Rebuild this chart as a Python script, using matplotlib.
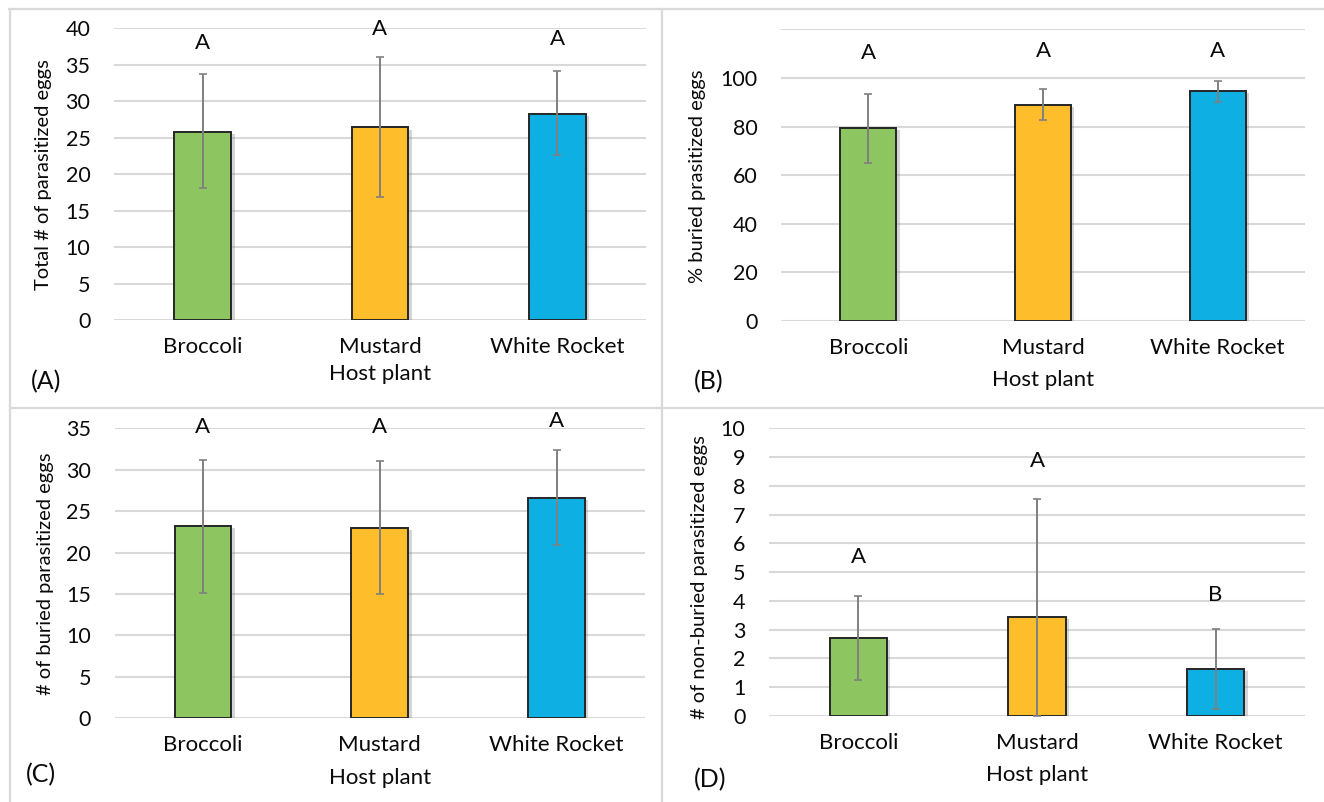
import matplotlib
matplotlib.use("Agg")
import matplotlib.pyplot as plt
import matplotlib.patheffects as pe
from matplotlib.lines import Line2D
import numpy as np

plt.rcParams['font.family'] = ['Lato', 'DejaVu Sans']

hosts = ['Broccoli', 'Mustard', 'White Rocket']
colors = ['#8DC661', '#FEBD2A', '#0EAFE3']

# (A) total parasitized eggs
a_mean = [25.8, 26.4, 28.2]
a_low = [18.1, 16.8, 22.6]
a_high = [33.8, 36.0, 34.1]
a_letters = ['A', 'A', 'A']
a_letter_y = [38.0, 39.9, 38.5]

# (B) % buried parasitized eggs
b_mean = [79.4, 89.0, 94.5]
b_low = [65.2, 82.6, 90.1]
b_high = [93.2, 95.6, 98.8]
b_letters = ['A', 'A', 'A']
b_letter_y = [110.3, 111.0, 111.0]

# (C) buried parasitized eggs
c_mean = [23.2, 23.0, 26.6]
c_low = [15.1, 15.0, 20.9]
c_high = [31.2, 31.05, 32.4]
c_letters = ['A', 'A', 'A']
c_letter_y = [35.2, 35.2, 35.9]

# (D) non-buried parasitized eggs
d_mean = [2.70, 3.45, 1.62]
d_low = [1.25, 0.0, 0.23]
d_high = [4.17, 7.53, 3.03]
d_letters = ['A', 'A', 'B']
d_letter_y = [5.54, 8.86, 4.2]

W, H = 1324, 802
fig = plt.figure(figsize=(W / 100, H / 100), dpi=100)
TXT = '#0A0A0A'


def px_axes(left, top, right, bottom):
    return fig.add_axes([left / W, 1 - bottom / H, (right - left) / W, (bottom - top) / H])


def panel(ax, mean, low, high, letters, letter_y, ymax, step, ticklabels):
    x = np.arange(len(hosts))
    mean = np.array(mean)
    yerr = [mean - np.array(low), np.array(high) - mean]
    bars = ax.bar(x, mean, width=0.32, color=colors, edgecolor='#262626',
                  linewidth=1.4, zorder=3)
    for b in bars:
        b.set_path_effects([pe.SimplePatchShadow(offset=(2.5, -1.5), shadow_rgbFace='#888888', alpha=0.35),
                            pe.Normal()])
    ax.errorbar(x, mean, yerr=yerr, fmt='none', ecolor='#808080', elinewidth=1.4,
                capsize=3, capthick=1.2, zorder=4)
    for xi, lt, ly in zip(x, letters, letter_y):
        ax.text(xi, ly, lt, ha='center', va='center', fontsize=16, color=TXT)
    ax.set_xlim(-0.5, len(hosts) - 0.5)
    ax.set_ylim(0, ymax)
    ticks = np.arange(0, ymax + step / 2, step)
    ax.set_yticks(ticks)
    ax.set_yticklabels(ticklabels)
    ax.set_xticks(x)
    ax.set_xticklabels(hosts)
    ax.tick_params(axis='both', length=0, colors=TXT)
    ax.tick_params(axis='y', pad=17, labelsize=15.5)
    ax.tick_params(axis='x', pad=12, labelsize=16)
    for s in ax.spines.values():
        s.set_visible(False)
    ax.grid(axis='y', color='#D9D9D9', linewidth=1.5, zorder=0)
    ax.set_axisbelow(True)


axA = px_axes(114, 28.3, 646, 320)
panel(axA, a_mean, a_low, a_high, a_letters, a_letter_y, 40, 5,
      ['0', '5', '10', '15', '20', '25', '30', '35', '40'])
axB = px_axes(781, 29.3, 1305, 321)
panel(axB, b_mean, b_low, b_high, b_letters, b_letter_y, 120, 20,
      ['0', '20', '40', '60', '80', '100', ''])
axC = px_axes(114.5, 428.3, 645, 718.3)
panel(axC, c_mean, c_low, c_high, c_letters, c_letter_y, 35, 5,
      ['0', '5', '10', '15', '20', '25', '30', '35'])
axD = px_axes(769, 428.3, 1305, 716)
panel(axD, d_mean, d_low, d_high, d_letters, d_letter_y, 10, 1,
      [str(i) for i in range(11)])


def ftext(x, y, s, **kw):
    fig.text(x / W, 1 - y / H, s, ha='center', va='center', color=TXT, **kw)


# axis titles
ftext(44, 175, 'Total # of parasitized eggs', fontsize=14.5, rotation=90)
ftext(698, 176, '% buried prasitized eggs', fontsize=14.5, rotation=90)
ftext(46, 574, '# of buried parasitized eggs', fontsize=14.5, rotation=90)
ftext(700, 577, '# of non-buried parasitized eggs', fontsize=14.5, rotation=90)
ftext(380, 374, 'Host plant', fontsize=16)
ftext(1043, 380, 'Host plant', fontsize=16)
ftext(380, 778, 'Host plant', fontsize=16)
ftext(1037, 775, 'Host plant', fontsize=16)
# panel tags
ftext(46, 382, '(A)', fontsize=18)
ftext(709, 382, '(B)', fontsize=18)
ftext(41, 775, '(C)', fontsize=18)
ftext(710, 780, '(D)', fontsize=18)

# panel frames
frame = dict(color='#D9D9D9', linewidth=1.6, transform=fig.transFigure)
for xs, ys in [((9, W), (9, 9)), ((10, 10), (9, H)), ((662, 662), (9, H)), ((10, W), (408, 408))]:
    fig.add_artist(Line2D([v / W for v in xs], [1 - v / H for v in ys], **frame))

fig.savefig('out.png', dpi=100)
